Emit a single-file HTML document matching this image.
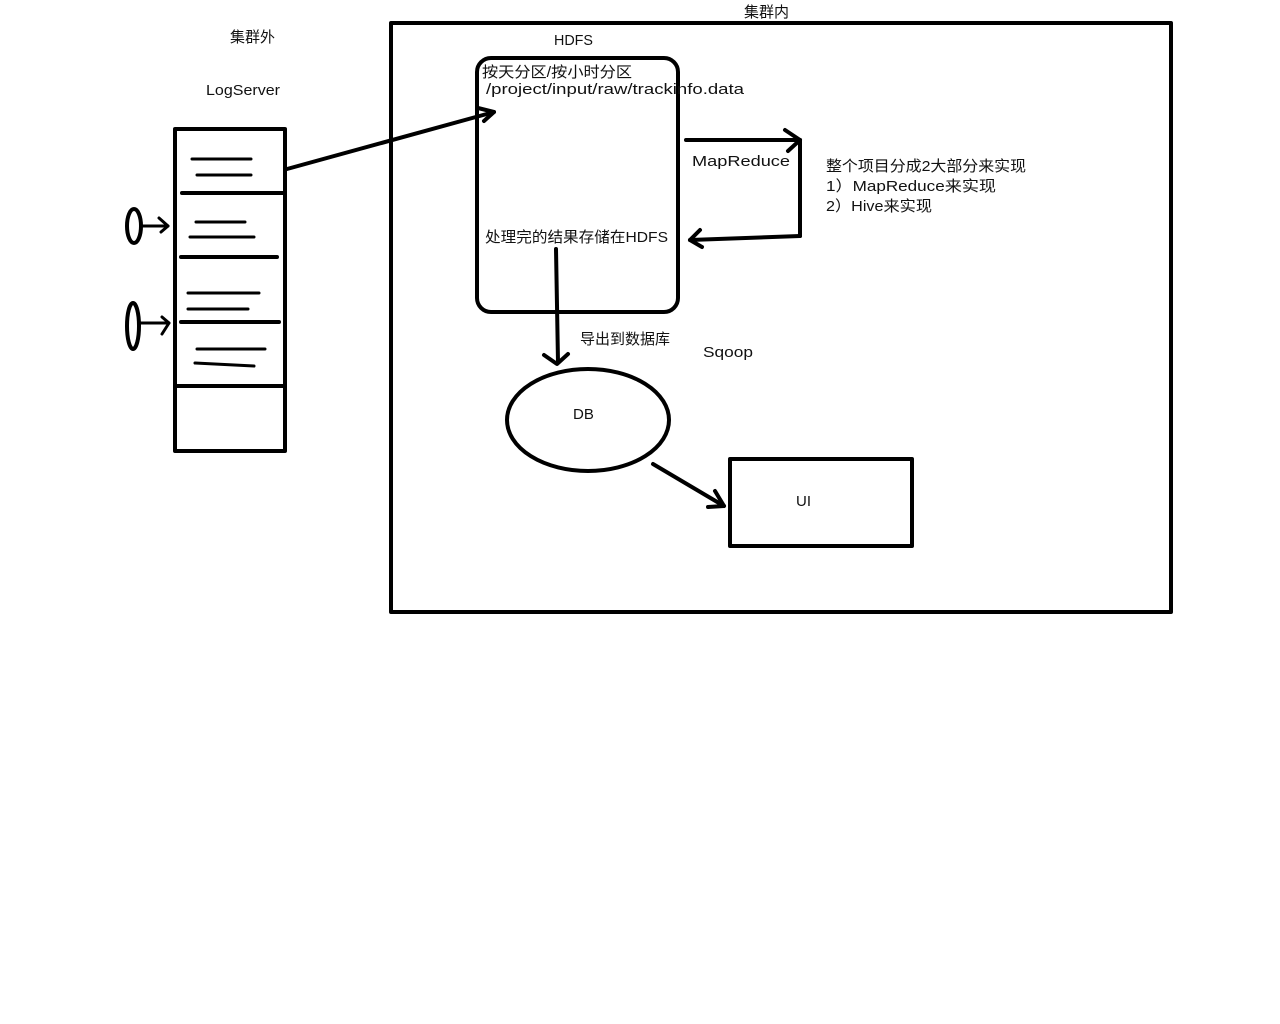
<!DOCTYPE html>
<html><head><meta charset="utf-8"><style>
html,body{margin:0;padding:0;background:#fff;width:1280px;height:1024px;overflow:hidden}
svg text{font-family:"Liberation Sans","Noto Sans CJK SC",sans-serif;font-size:15px;fill:#111}
</style></head><body>
<svg width="1280" height="1024" viewBox="0 0 1280 1024" xmlns="http://www.w3.org/2000/svg">
<g fill="none" stroke="#000" stroke-width="4" stroke-linecap="round" stroke-linejoin="round">
<rect x="391" y="23" width="780" height="589" stroke-width="4"/>
<rect x="175" y="129" width="110" height="322"/>
<line x1="182" y1="193" x2="283" y2="193"/>
<line x1="181" y1="257" x2="277" y2="257"/>
<line x1="181" y1="322" x2="279" y2="322"/>
<line x1="175" y1="386" x2="285" y2="386"/>
<g stroke-width="3">
<line x1="192" y1="159" x2="251" y2="159"/>
<line x1="197" y1="175" x2="251" y2="175"/>
<line x1="196" y1="222" x2="245" y2="222"/>
<line x1="190" y1="237" x2="254" y2="237"/>
<line x1="188" y1="293" x2="259" y2="293"/>
<line x1="188" y1="309" x2="248" y2="309"/>
<line x1="197" y1="349" x2="265" y2="349"/>
<line x1="195" y1="363" x2="254" y2="366"/>
</g>
<ellipse cx="134" cy="226" rx="7" ry="17" stroke-width="4"/>
<line x1="142" y1="226" x2="168" y2="226" stroke-width="3"/>
<path d="M159 218 L168 226 L161 232" stroke-width="3"/>
<ellipse cx="133" cy="326" rx="6" ry="23" stroke-width="4"/>
<line x1="140" y1="323" x2="169" y2="323" stroke-width="3"/>
<path d="M162 317 L169 323 L162 334" stroke-width="3"/>
<line x1="287" y1="169" x2="494" y2="112"/>
<path d="M478 108 L494 112 L484 121"/>
<rect x="477" y="58" width="201" height="254" rx="14"/>
<line x1="686" y1="140" x2="800" y2="140"/>
<path d="M785 130 L800 140 L788 151"/>
<line x1="800" y1="140" x2="800" y2="236"/>
<line x1="800" y1="236" x2="690" y2="240"/>
<path d="M700 230 L690 240 L702 247"/>
<line x1="556" y1="249" x2="558" y2="362"/>
<path d="M544 355 L557 364 L568 354"/>
<ellipse cx="588" cy="420" rx="81" ry="51"/>
<line x1="653" y1="464" x2="724" y2="506"/>
<path d="M715 491 L724 506 L708 507"/>
<rect x="730" y="459" width="182" height="87"/>
</g>
<text x="230" y="42">集群外</text>
<text x="206" y="95" textLength="74" lengthAdjust="spacingAndGlyphs">LogServer</text>
<text x="744" y="17">集群内</text>
<text x="554" y="45" textLength="39" lengthAdjust="spacingAndGlyphs">HDFS</text>
<text x="482" y="77" textLength="150" lengthAdjust="spacingAndGlyphs">按天分区/按小时分区</text>
<text x="486" y="94" textLength="258" lengthAdjust="spacingAndGlyphs">/project/input/raw/trackinfo.data</text>
<text x="692" y="166" textLength="98" lengthAdjust="spacingAndGlyphs">MapReduce</text>
<text x="826" y="171" textLength="200" lengthAdjust="spacingAndGlyphs">整个项目分成2大部分来实现</text>
<text x="826" y="191" textLength="170" lengthAdjust="spacingAndGlyphs">1）MapReduce来实现</text>
<text x="826" y="211" textLength="106" lengthAdjust="spacingAndGlyphs">2）Hive来实现</text>
<text x="485" y="242" textLength="183" lengthAdjust="spacingAndGlyphs">处理完的结果存储在HDFS</text>
<text x="580" y="344">导出到数据库</text>
<text x="703" y="357" textLength="50" lengthAdjust="spacingAndGlyphs">Sqoop</text>
<text x="573" y="419">DB</text>
<text x="796" y="506">UI</text>
</svg>
</body></html>
